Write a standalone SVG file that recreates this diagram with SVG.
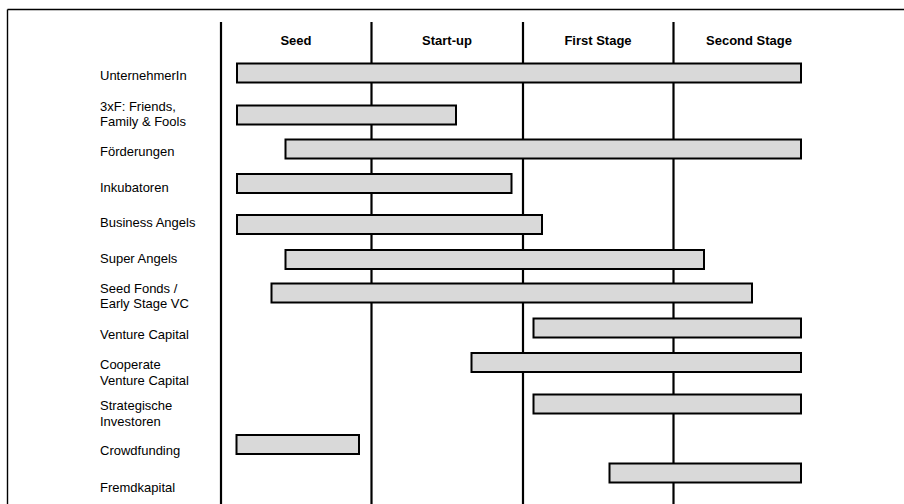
<svg xmlns="http://www.w3.org/2000/svg" width="904" height="504" viewBox="0 0 904 504">
  <style>
    .frame { stroke: #000; stroke-width: 1.4; fill: none; }
    .divider { stroke: #000; stroke-width: 2.2; fill: none; }
    .bar { fill: #d9d9d9; stroke: #000; stroke-width: 2; }
    .head { font-family: "Liberation Sans", Arial, sans-serif; font-size: 13px; font-weight: bold; text-anchor: middle; fill: #000; }
    .label { font-family: "Liberation Sans", Arial, sans-serif; font-size: 13px; fill: #000; }
  </style>
  <rect x="0" y="0" width="904" height="504" fill="#fff"/>

  <!-- outer frame: top rule and left edge -->
  <g id="frame">
    <line class="frame" x1="7.5" y1="9.5" x2="904" y2="9.5"/>
    <line class="frame" x1="7.5" y1="9.5" x2="7.5" y2="504"/>
  </g>

  <!-- phase dividers -->
  <g id="connectors">
    <line class="divider" x1="221" y1="22" x2="221" y2="504"/>
    <line class="divider" x1="371.5" y1="22" x2="371.5" y2="504"/>
    <line class="divider" x1="523" y1="22" x2="523" y2="504"/>
    <line class="divider" x1="673.5" y1="22" x2="673.5" y2="504"/>
  </g>

  <!-- phase headings -->
  <g id="phases">
    <text class="head" x="296" y="44.5">Seed</text>
    <text class="head" x="447" y="44.5">Start-up</text>
    <text class="head" x="598" y="44.5">First Stage</text>
    <text class="head" x="749" y="44.5">Second Stage</text>
  </g>

  <g id="unternehmerin">
    <text class="label" x="100" y="80">UnternehmerIn</text>
    <rect class="bar" x="237" y="63.5" width="564" height="19"/>
  </g>
  <g id="3xf">
    <text class="label" x="100" y="111">3xF: Friends,</text>
    <text class="label" x="100" y="126">Family &amp; Fools</text>
    <rect class="bar" x="237" y="105.5" width="219" height="19"/>
  </g>
  <g id="foerderungen">
    <text class="label" x="100" y="156">Förderungen</text>
    <rect class="bar" x="285.5" y="139.5" width="515.5" height="19"/>
  </g>
  <g id="inkubatoren">
    <text class="label" x="100" y="192">Inkubatoren</text>
    <rect class="bar" x="237" y="174" width="274.5" height="19"/>
  </g>
  <g id="business-angels">
    <text class="label" x="100" y="227">Business Angels</text>
    <rect class="bar" x="237" y="215" width="305" height="19"/>
  </g>
  <g id="super-angels">
    <text class="label" x="100" y="262.5">Super Angels</text>
    <rect class="bar" x="285.5" y="250" width="418.5" height="19"/>
  </g>
  <g id="seed-fonds">
    <text class="label" x="100" y="292.5">Seed Fonds /</text>
    <text class="label" x="100" y="308">Early Stage VC</text>
    <rect class="bar" x="271.5" y="283.5" width="480.5" height="19"/>
  </g>
  <g id="venture-capital">
    <text class="label" x="100" y="338.5">Venture Capital</text>
    <rect class="bar" x="533.5" y="318.5" width="267.5" height="19"/>
  </g>
  <g id="cooperate-vc">
    <text class="label" x="100" y="369">Cooperate</text>
    <text class="label" x="100" y="385">Venture Capital</text>
    <rect class="bar" x="471.5" y="353" width="329.5" height="19"/>
  </g>
  <g id="strategische-investoren">
    <text class="label" x="100" y="410">Strategische</text>
    <text class="label" x="100" y="426">Investoren</text>
    <rect class="bar" x="533.5" y="394.5" width="267.5" height="19"/>
  </g>
  <g id="crowdfunding">
    <text class="label" x="100" y="455">Crowdfunding</text>
    <rect class="bar" x="236.5" y="435" width="122.5" height="19"/>
  </g>
  <g id="fremdkapital">
    <text class="label" x="100" y="492">Fremdkapital</text>
    <rect class="bar" x="609.5" y="463.5" width="191.5" height="19"/>
  </g>
</svg>
